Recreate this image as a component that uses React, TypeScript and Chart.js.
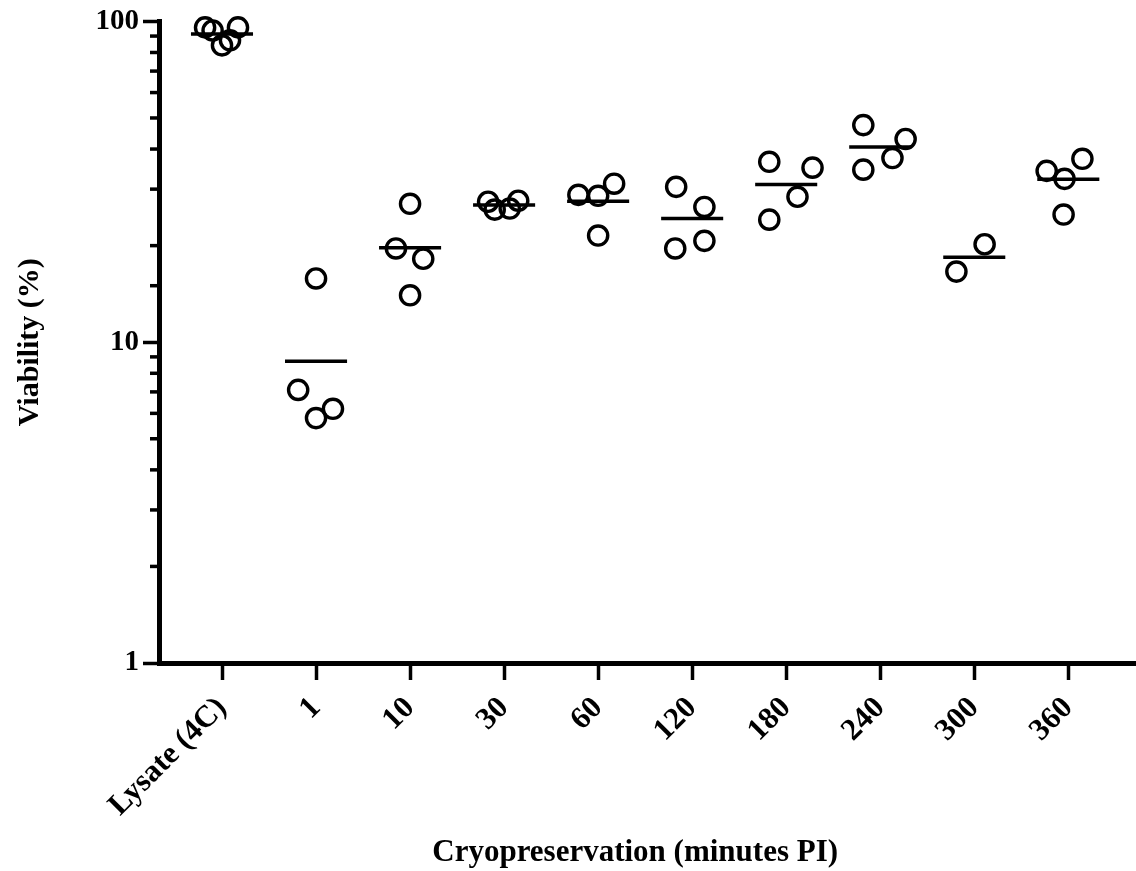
import React, { useEffect, useRef } from "react";
import { Chart, registerables } from "chart.js";

Chart.register(...registerables);

const categories = ["Lysate (4C)", "1", "10", "30", "60", "120", "180", "240", "300", "360"];

const lysate4C = [95.8, 93.7, 84.2, 87.3, 95.8];
const min1 = [15.8, 7.1, 5.8, 6.2];
const min10 = [27.0, 19.6, 18.2, 14.0];
const min30 = [27.4, 25.9, 26.1, 27.6];
const min60 = [28.8, 28.6, 31.2, 21.5];
const min120 = [30.5, 26.4, 20.7, 19.6];
const min180 = [36.5, 35.0, 28.4, 24.1];
const min240 = [47.5, 43.0, 37.5, 34.5];
const min300 = [20.2, 16.6];
const min360 = [34.2, 37.3, 32.3, 25.0];

// horizontal scatter offsets (category units) of each replicate
const jitter = [
  [-0.18, -0.1, 0, 0.085, 0.17],
  [0, -0.19, 0, 0.18],
  [0, -0.15, 0.14, 0],
  [-0.17, -0.1, 0.06, 0.15],
  [-0.21, 0, 0.17, 0],
  [-0.17, 0.13, 0.13, -0.18],
  [-0.18, 0.28, 0.12, -0.18],
  [-0.18, 0.27, 0.13, -0.18],
  [0.11, -0.19],
  [-0.23, 0.15, -0.04, -0.05],
];

const groups = [lysate4C, min1, min10, min30, min60, min120, min180, min240, min300, min360];

const yMajorTicks = [1, 10, 100];

const xTitle = "Cryopreservation (minutes PI)";

const FONT = "'Liberation Serif', 'Times New Roman', serif";

const layoutFixPlugin = {
  id: "layoutFix",
  afterLayout(chart: any) {
    const ca = chart.chartArea;
    const x = chart.scales.x;
    ca.right = chart.width;
    ca.width = ca.right - ca.left;
    x.right = chart.width;
    x.width = x.right - x.left;
    x.configure();
  },
};

const decorPlugin = {
  id: "decor",
  afterDraw(chart: any) {
    const y = chart.scales.y;
    const x = chart.scales.x;
    const ctx = chart.ctx;
    const left = chart.chartArea.left;
    ctx.save();
    ctx.strokeStyle = "#000";
    ctx.lineWidth = 3.5;
    for (const t of y.ticks) {
      if (yMajorTicks.includes(t.value)) continue;
      const py = y.getPixelForValue(t.value);
      ctx.beginPath();
      ctx.moveTo(left - 9, py);
      ctx.lineTo(left, py);
      ctx.stroke();
    }
    // x axis title, centred a little left of the plot centre as in the source
    ctx.fillStyle = "#000";
    ctx.font = `bold 31px ${FONT}`;
    ctx.textAlign = "center";
    ctx.textBaseline = "middle";
    const cx = (x.getPixelForValue(0) + x.getPixelForValue(categories.length - 1)) / 2 - 10;
    ctx.fillText(xTitle, cx, x.bottom - 18);
    ctx.restore();
  },
};

export default function App() {
  const ref = useRef<HTMLCanvasElement | null>(null);

  useEffect(() => {
    if (!ref.current) return;
    const points: { x: number; y: number }[] = [];
    groups.forEach((vals, i) => {
      vals.forEach((v, j) => points.push({ x: i + jitter[i][j], y: v }));
    });
    const meanSets = groups.map((vals, i) => {
      const m = vals.reduce((a, b) => a + b, 0) / vals.length;
      return {
        type: "line" as const,
        data: [
          { x: i - 0.33, y: m },
          { x: i + 0.33, y: m },
        ],
        borderColor: "#000",
        borderWidth: 3.5,
        pointRadius: 0,
        fill: false,
        clip: false,
      };
    });

    const chart = new Chart(ref.current, {
      type: "scatter",
      data: {
        datasets: [
          {
            data: points,
            pointStyle: "circle",
            pointRadius: 9.6,
            pointBorderWidth: 3.4,
            borderColor: "#000",
            backgroundColor: "rgba(0,0,0,0)",
            clip: false,
          } as any,
          ...meanSets,
        ],
      },
      options: {
        animation: false,
        responsive: false,
        devicePixelRatio: 1,
        layout: { padding: { top: 19, right: 0, left: 0, bottom: 0 } },
        plugins: { legend: { display: false }, tooltip: { enabled: false } },
        scales: {
          x: {
            type: "linear",
            min: -0.67,
            max: 9.72,
            afterFit: (s: any) => {
              s.height = 208;
              s.paddingLeft = 0;
              s.paddingRight = 0;
            },
            afterBuildTicks: (s: any) => {
              s.ticks = categories.map((_, i) => ({ value: i }));
            },
            border: { display: true, color: "#000", width: 5 },
            grid: {
              display: true,
              drawOnChartArea: false,
              drawTicks: true,
              tickLength: 17,
              tickWidth: 3.5,
              tickColor: "#000",
            },
            ticks: {
              autoSkip: false,
              includeBounds: false,
              minRotation: 45,
              maxRotation: 45,
              padding: 10,
              color: "#000",
              font: { family: FONT, size: 31, weight: "bold" },
              callback: (v: any) => categories[Math.round(Number(v))] ?? "",
            },
            title: { display: false },
          },
          y: {
            type: "logarithmic",
            min: 1,
            max: 100,
            afterFit: (s: any) => {
              s.width = 159;
            },
            border: { display: true, color: "#000", width: 5 },
            grid: {
              display: true,
              drawOnChartArea: false,
              drawTicks: true,
              tickLength: 16,
              tickWidth: 3.5,
              tickColor: (c: any) =>
                c.tick && yMajorTicks.includes(c.tick.value) ? "#000" : "rgba(0,0,0,0)",
            },
            ticks: {
              autoSkip: false,
              padding: 4,
              color: "#000",
              font: { family: FONT, size: 29, weight: "bold" },
              callback: (v: any) => (yMajorTicks.includes(Number(v)) ? String(v) : ""),
            },
            title: {
              display: true,
              text: "Viability (%)",
              color: "#000",
              font: { family: FONT, size: 30, weight: "bold" },
              padding: { top: 12, bottom: 0 },
            },
          },
        },
      } as any,
      plugins: [layoutFixPlugin, decorPlugin],
    });
    return () => chart.destroy();
  }, []);

  return (
    <div style={{ position: "absolute", left: 0, top: 0, width: 1136, height: 871, background: "#fff" }}>
      <canvas ref={ref} width={1136} height={871} style={{ width: 1136, height: 871 }} />
    </div>
  );
}
